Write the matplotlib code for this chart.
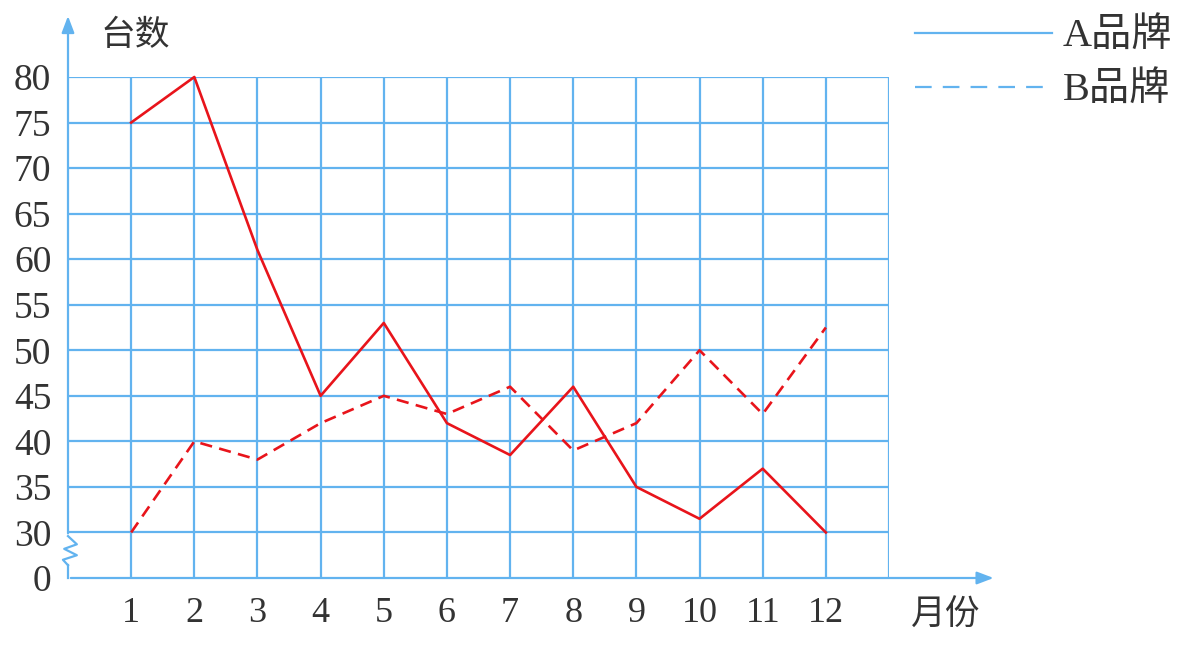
import matplotlib
matplotlib.use("Agg")
import matplotlib.pyplot as plt
from matplotlib.lines import Line2D

# data
months = [1, 2, 3, 4, 5, 6, 7, 8, 9, 10, 11, 12]
brand_a = [75, 80, 61, 45, 53, 42, 38.5, 46, 35, 31.5, 37, 30]
brand_b = [30, 40, 38, 42, 45, 43, 46, 39, 42, 50, 43, 52.5]
y_ticks = [25, 30, 35, 40, 45, 50, 55, 60, 65, 70, 75, 80]
y_labels = ["0", "30", "35", "40", "45", "50", "55", "60", "65", "70", "75", "80"]

BLUE = "#62b3ef"
RED = "#e8141b"
INK = "#333333"
SERIF = ["Liberation Serif", "Noto Sans CJK SC"]
CJK = ["Noto Sans CJK SC", "DejaVu Sans"]

fig = plt.figure(figsize=(11.98, 6.5), dpi=100)
ax = fig.add_axes([68 / 1198, 72 / 650, 821 / 1198, 501 / 650])
ax.set_xlim(0, 13)
ax.set_ylim(25, 80)
for s in ax.spines.values():
    s.set_visible(False)

# grid
ax.vlines(range(1, 14), 25, 80, color=BLUE, lw=1.6, zorder=1)
ax.hlines(range(30, 85, 5), 0, 13, color=BLUE, lw=1.6, zorder=1)

# axes with arrows
ax.annotate("", xy=(14.7, 25), xytext=(0, 25), annotation_clip=False,
            arrowprops=dict(arrowstyle="-|>,head_length=1.0,head_width=0.38", color=BLUE, lw=1.6))
ax.annotate("", xy=(0, 87.0), xytext=(0, 29.6), annotation_clip=False,
            arrowprops=dict(arrowstyle="-|>,head_length=1.0,head_width=0.38", color=BLUE, lw=1.6))
ax.plot([0, 0], [25, 26.4], color=BLUE, lw=1.6, clip_on=False)
# axis break mark
ax.plot([0, 0.14, -0.06, 0.14, -0.08, 0.0],
        [29.6, 28.7, 28.2, 27.5, 27.0, 26.4], color=BLUE, lw=1.6, clip_on=False)

# series
ax.plot(months, brand_a, color=RED, lw=1.9, zorder=3, clip_on=False)
ax.plot(months, brand_b, color=RED, lw=1.9, dashes=(4.6, 2.8), zorder=3, clip_on=False)

ax.set_xticks(months)
ax.set_xticklabels([str(m) for m in months], family=SERIF, fontsize=26, color=INK)
ax.set_yticks(y_ticks)
ax.set_yticklabels(y_labels, family=SERIF, fontsize=27, color=INK)
ax.tick_params(length=0)
ax.tick_params(axis="x", pad=14)
ax.tick_params(axis="y", pad=12)

ax.text(1.06, 84.6, "台数", family=CJK, fontsize=25, color=INK, va="center", ha="center")
ax.text(13.89, 20.9, "月份", family=CJK, fontsize=25, color=INK, va="center", ha="center")

# legend
fig.add_artist(Line2D([915 / 1198, 1052 / 1198], [1 - 33 / 650, 1 - 33 / 650], color=BLUE, lw=1.6))
fig.add_artist(Line2D([915 / 1198, 1052 / 1198], [1 - 87 / 650, 1 - 87 / 650], color=BLUE, lw=1.6,
                      dashes=(7.5, 5)))
fig.text(1063 / 1198, 1 - 36 / 650, "A品牌", family=SERIF, fontsize=29, color=INK, va="center")
fig.text(1063 / 1198, 1 - 90 / 650, "B品牌", family=SERIF, fontsize=29, color=INK, va="center")

fig.savefig("out.png", dpi=100, facecolor="white")
